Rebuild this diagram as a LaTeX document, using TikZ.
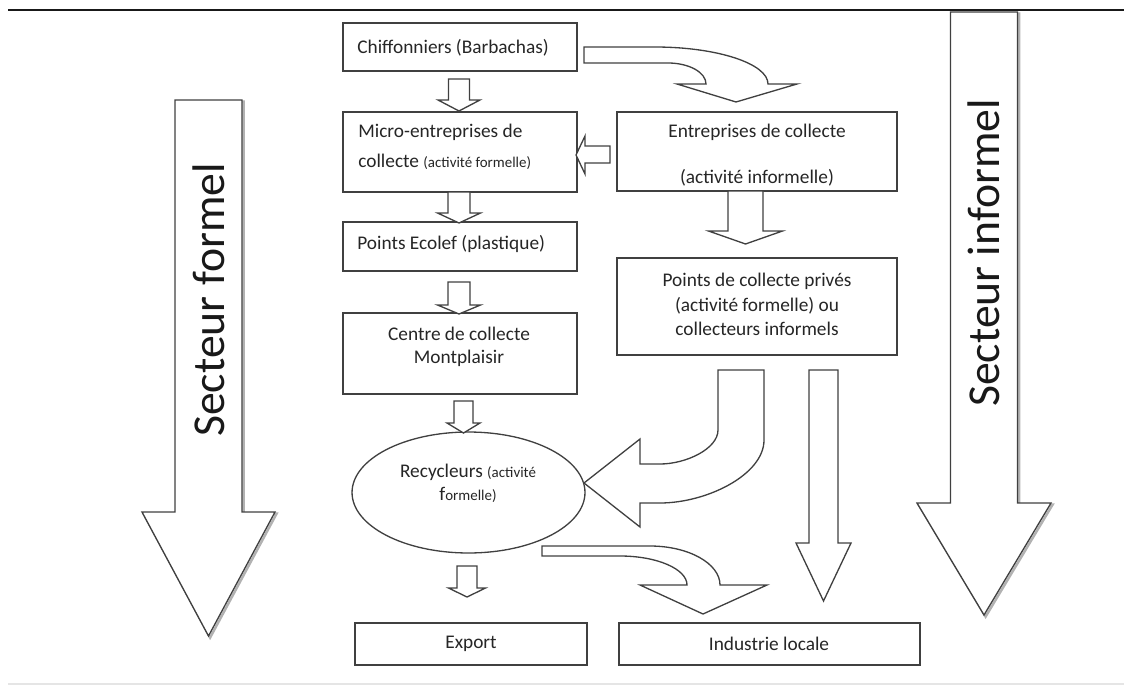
\documentclass[tikz,border=0pt]{standalone}
\usepackage{fontspec}
\setmainfont{Carlito}
\usetikzlibrary{shapes.geometric,fit}

\tikzset{
  outline/.style={draw=black!75, line width=0.75pt, line join=miter},
  box/.style={outline, rectangle, inner sep=0pt, fill=white},
  blk/.style={outline, fill=white},
  txt/.style={font=\fontsize{11}{13.6}\selectfont, text=black!85, inner sep=0pt},
  bigtxt/.style={font=\fontsize{26}{30}\selectfont, text=black!90, rotate=90, inner sep=0pt},
  shade/.style={draw=black!30, line width=1.4pt, shift={(1.6,1.6)}}
}
\newcommand\smallfnt{\fontsize{8.5}{10}\selectfont}
% block arrow pointing down: centre x, shaft top, head base, tip, shaft half width, head half width
\newcommand\dnblock[7][blk]{%
  \draw[#1] ({#2-#6},#3) -- ({#2+#6},#3) -- ({#2+#6},#4) -- ({#2+#7},#4) -- (#2,#5)
    -- ({#2-#7},#4) -- ({#2-#6},#4) -- cycle;}

\begin{document}
\begin{tikzpicture}[x=0.02cm, y=-0.02cm]
\useasboundingbox (0,0) rectangle (1124,686);

% rules above and below
\draw[black!90, line width=1.1pt] (8,10) -- (1124,10);
\draw[black!10, line width=0.6pt] (8,684) -- (1124,684);

% sector arrows
\dnblock[shade]{208.5}{100}{512}{636}{33.5}{66.5}
\dnblock{208.5}{100}{512}{636}{33.5}{66.5}
\dnblock[shade]{984}{12}{503}{615}{33.5}{67}
\dnblock{984}{12}{503}{615}{33.5}{67}
\node[bigtxt] (formel) at (208.5,300) {Secteur formel};
\node[bigtxt] (informel) at (984,253) {Secteur informel};

% boxes
\node[box, fit={(343,23) (577,71)}] (chif) {};
\node[box, fit={(343,112) (577,192)}] (micro) {};
\node[box, fit={(617,112) (897,191)}] (entr) {};
\node[box, fit={(343,222) (577,271)}] (ecolef) {};
\node[box, fit={(343,313) (577,394)}] (centre) {};
\node[box, fit={(617,258) (897,355)}] (points) {};
\node[box, fit={(355,623) (587,665)}] (export) {};
\node[box, fit={(619,623) (920,665)}] (indus) {};
\node[outline, ellipse, fill=white, minimum width=4.66cm, minimum height=2.42cm, inner sep=0pt] (recyc) at (468.5,492.5) {};

% box texts
\node[txt, anchor=west] (chifT) at (357,48) {Chiffonniers (Barbachas)};
\node[txt, anchor=west, align=left] (microT) at (358,147) {Micro-entreprises de\\[3.5pt]collecte {\smallfnt(activité formelle)}};
\node[txt, align=center] (entrT) at (757,155) {Entreprises de collecte\\[12.5pt](activité informelle)};
\node[txt, anchor=west] (ecolefT) at (357,244) {Points Ecolef (plastique)};
\node[txt, align=center] (centreT) at (459,346.5) {Centre de collecte\\[-0.5pt]Montplaisir};
\node[txt, align=center] (pointsT) at (757,304.5) {Points de collecte privés\\[0.4pt](activité formelle) ou\\[0.4pt]collecteurs informels};
\node[txt, align=center] (recycT) at (468,483.5) {Recycleurs {\smallfnt(activité}\\[-0.5pt]f{\smallfnt ormelle)}};
\node[txt] (exportT) at (471,644) {Export};
\node[txt] (indusT) at (769,644) {Industrie locale};

% small flow arrows
\dnblock{459}{79}{100}{111}{10.5}{21}
\dnblock{459}{192}{213}{223}{11}{21.5}
\dnblock{459}{282}{305}{314}{11}{21.5}
\dnblock{463.5}{401}{423}{433}{9.5}{16.5}
\dnblock{467}{566}{588}{597}{10}{18.5}
\dnblock{745.5}{191}{231}{244}{17.5}{37}
\dnblock{823.5}{370}{543}{601}{14.5}{27.5}

% from Entreprises de collecte to Micro-entreprises
\draw[blk] (610,146) -- (610,163) -- (585,163) -- (585,174) -- (576,155) -- (585,136) -- (585,146) -- cycle;

% curved arrow: Chiffonniers to Entreprises de collecte
\draw[blk] (584,47) -- (655,47) .. controls (717,47) and (768,63.6) .. (768,84)
  -- (797,84) -- (736,102) -- (677,84) -- (706,84)
  .. controls (706,72.4) and (689,63) .. (668,63) -- (584,63) -- cycle;

% curved arrow: Points de collecte to Recycleurs
\draw[blk] (718,370) -- (764,370) -- (764,440)
  .. controls (764,474.8) and (706.6,503) .. (660,503) -- (640,503) -- (640,527)
  -- (584,483) -- (640,439) -- (640,464) -- (660,464)
  .. controls (686,464) and (718,448.8) .. (718,430) -- cycle;

% curved arrow: Recycleurs to Industrie locale
\draw[blk] (542,546) -- (650,546) .. controls (688.6,546) and (720,563.5) .. (720,585)
  -- (767,585) -- (703,614) -- (640,585) -- (687,585)
  .. controls (687,569) and (657,556) .. (620,556) -- (542,556) -- cycle;
\end{tikzpicture}
\end{document}
